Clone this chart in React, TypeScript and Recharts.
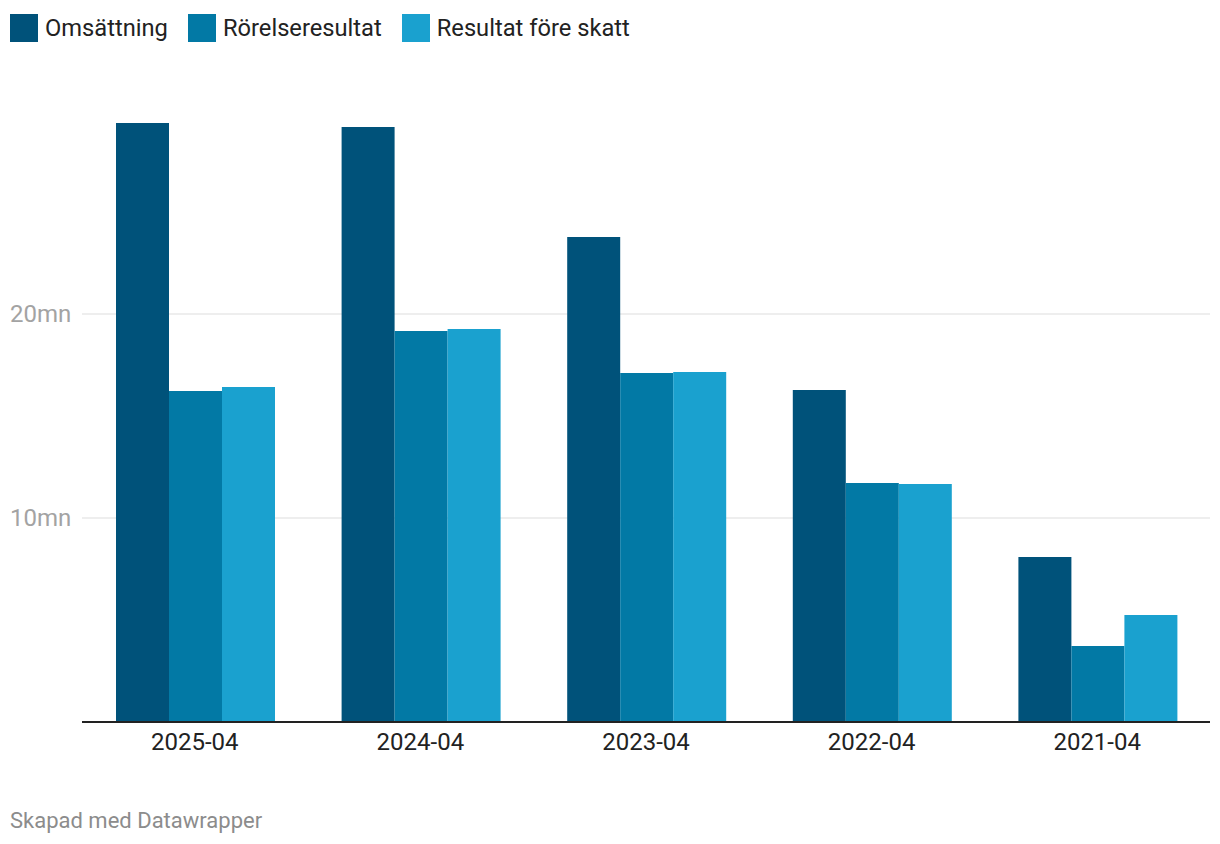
import React from 'react';
import { BarChart, Bar, XAxis, YAxis, CartesianGrid } from 'recharts';

// values in millions (mn)
const periods = ['2025-04', '2024-04', '2023-04', '2022-04', '2021-04'];
const omsattning = [29.36, 29.17, 23.77, 16.27, 8.09];
const rorelseresultat = [16.23, 19.17, 17.11, 11.72, 3.73];
const resultatForeSkatt = [16.42, 19.26, 17.16, 11.67, 5.25];
const yTicks = [10, 20];

export const seriesLabels = [
  { key: 'omsattning', name: 'Omsättning', color: '#00527a' },
  { key: 'rorelseresultat', name: 'Rörelseresultat', color: '#0279a5' },
  { key: 'resultat', name: 'Resultat före skatt', color: '#1aa1cf' },
];

const data = periods.map((p, i) => ({
  name: p,
  omsattning: omsattning[i],
  rorelseresultat: rorelseresultat[i],
  resultat: resultatForeSkatt[i],
}));

const FONT = 'Roboto, sans-serif';

function YTick(props: any) {
  const { y, payload } = props;
  return (
    <text x={10} y={y} dominantBaseline="central" textAnchor="start" fill="#a3a3a3" fontSize={24} fontFamily={FONT}>
      {payload.value}mn
    </text>
  );
}

function XTick(props: any) {
  const { x, y, payload } = props;
  return (
    <text x={x} y={y} dy={28} textAnchor="middle" fill="#222" fontSize={24} fontFamily={FONT}>
      {payload.value}
    </text>
  );
}

export default function App() {
  return (
    <div style={{ position: 'absolute', top: 0, left: 0, width: 1220, height: 844, background: '#fff', fontFamily: FONT }}>
      <div style={{ position: 'absolute', top: 14, left: 10, display: 'flex', alignItems: 'center', height: 28 }}>
        {seriesLabels.map((s) => (
          <div key={s.key} style={{ display: 'flex', alignItems: 'center', marginRight: 20 }}>
            <span style={{ display: 'inline-block', width: 28, height: 28, background: s.color, marginRight: 7 }} />
            <span style={{ fontSize: 23.7, color: '#222', lineHeight: '28px' }}>{s.name}</span>
          </div>
        ))}
      </div>
      <div style={{ position: 'absolute', top: 0, left: 0 }}>
        <BarChart
          width={1220}
          height={844}
          data={data}
          margin={{ top: 110, right: 10, left: 0, bottom: 92 }}
          barGap={0}
          barCategoryGap={34}
        >
          <CartesianGrid vertical={false} horizontalValues={yTicks} stroke="#dedede" strokeWidth={1.2} />
          <YAxis
            width={82}
            domain={[0, 30]}
            ticks={yTicks}
            axisLine={false}
            tickLine={false}
            tick={<YTick />}
          />
          <XAxis
            dataKey="name"
            height={30}
            axisLine={{ stroke: '#222', strokeWidth: 2 }}
            tickLine={false}
            tickSize={0}
            tickMargin={0}
            tick={<XTick />}
          />
          {seriesLabels.map((s) => (
            <Bar key={s.key} dataKey={s.key} name={s.name} fill={s.color} isAnimationActive={false} />
          ))}
        </BarChart>
      </div>
      <div style={{ position: 'absolute', top: 808, left: 10, fontSize: 22, color: '#8c8c8c' }}>Skapad med Datawrapper</div>
    </div>
  );
}
